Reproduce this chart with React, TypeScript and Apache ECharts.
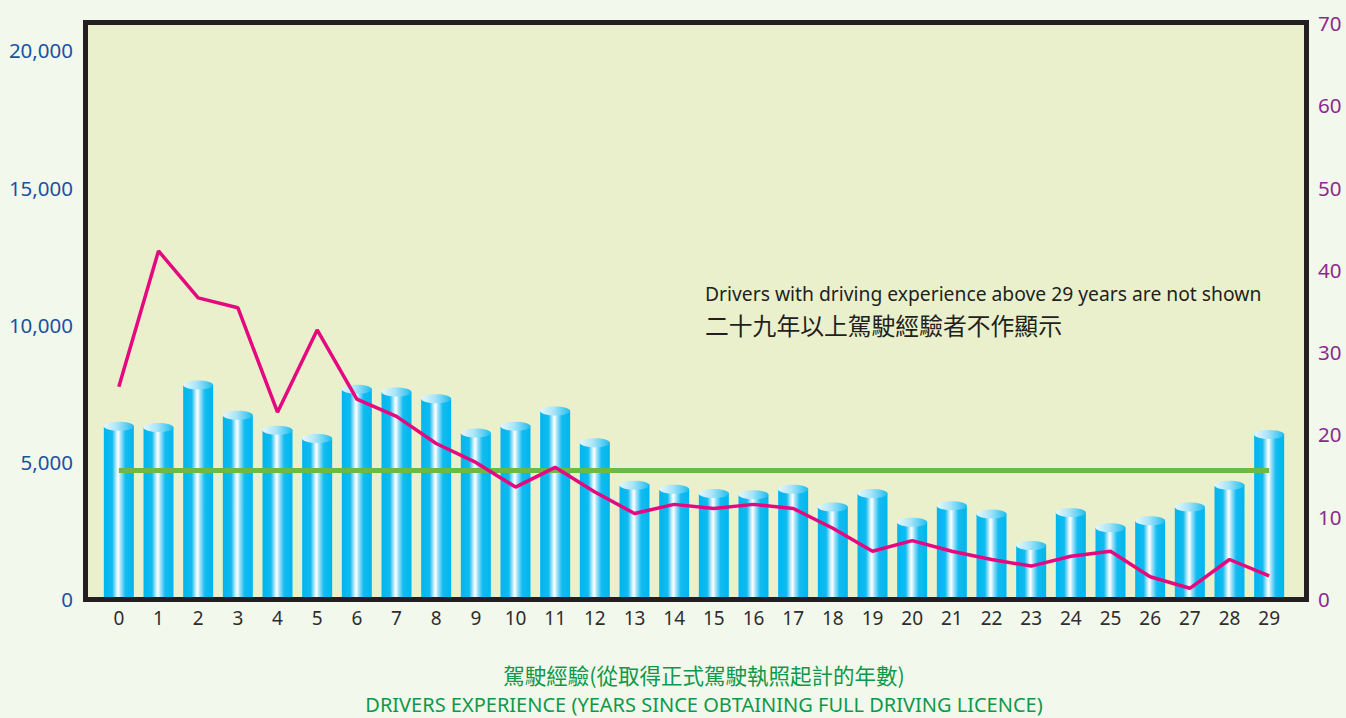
import React, { useEffect, useRef } from "react";
import * as echarts from "echarts";

const categories = ["0","1","2","3","4","5","6","7","8","9","10","11","12","13","14","15","16","17","18","19","20","21","22","23","24","25","26","27","28","29"];
const driverCounts = [6300, 6250, 7800, 6700, 6150, 5850, 7650, 7550, 7300, 6050, 6300, 6850, 5700, 4150, 4000, 3850, 3800, 4000, 3350, 3850, 2800, 3400, 3100, 1950, 3150, 2600, 2850, 3350, 4150, 6000];
const accidentRate = [25.8, 42.3, 36.6, 35.4, 22.7, 32.7, 24.3, 22.2, 18.9, 16.6, 13.6, 16.0, 13.0, 10.4, 11.5, 11.0, 11.5, 11.0, 8.6, 5.8, 7.1, 5.8, 4.8, 4.0, 5.2, 5.8, 2.7, 1.3, 4.8, 2.8];
const averageLevel = 4700;
const leftTicks = [0, 5000, 10000, 15000, 20000];
const rightTicks = [0, 10, 20, 30, 40, 50, 60, 70];
const noteEn = "Drivers with driving experience above 29 years are not shown";
const noteZh = "二十九年以上駕駛經驗者不作顯示";
const titleZh = "駕駛經驗(從取得正式駕駛執照起計的年數)";
const titleEn = "DRIVERS EXPERIENCE (YEARS SINCE OBTAINING FULL DRIVING LICENCE)";

const FONT = '"Noto Sans", "Open Sans", sans-serif';
const CJK = '"Noto Sans CJK TC", "Noto Sans CJK SC", sans-serif';

export default function App() {
  const ref = useRef<HTMLDivElement>(null);
  useEffect(() => {
    document.body.style.margin = "0";
    const chart = echarts.init(ref.current!, null, { renderer: "svg" });
    const bodyGrad = new echarts.graphic.LinearGradient(0, 0, 1, 0, [
      { offset: 0, color: "#00b6ee" },
      { offset: 0.28, color: "#10bbef" },
      { offset: 0.42, color: "#c8eefc" },
      { offset: 0.48, color: "#ffffff" },
      { offset: 0.56, color: "#a6e3f8" },
      { offset: 0.72, color: "#12bcf0" },
      { offset: 1, color: "#00b6ee" },
    ]);
    const capGrad = new echarts.graphic.LinearGradient(0, 0, 1, 0, [
      { offset: 0, color: "#e6f7fd" },
      { offset: 0.45, color: "#a9e4f8" },
      { offset: 1, color: "#1cbdf0" },
    ]);
    const option: any = {
      animation: false,
      backgroundColor: "#f3f8ec",
      grid: { left: 99, right: 57, top: 23, bottom: 119, containLabel: false },
      xAxis: {
        type: "category",
        data: categories,
        axisLine: { show: false },
        axisTick: { show: false },
        axisLabel: { color: "#2e2e2e", fontSize: 19, fontFamily: FONT, margin: 9 },
      },
      yAxis: [
        {
          type: "value",
          min: 0,
          max: 21000,
          interval: 5000,
          splitLine: { show: false },
          axisLine: { show: false },
          axisTick: { show: false },
          axisLabel: {
            showMaxLabel: false,
            color: "#1a52a2",
            fontSize: 20.5,
            fontFamily: FONT,
            margin: 26,
            formatter: (v: number) => (leftTicks.includes(v) ? v.toLocaleString("en-US") : ""),
          },
        },
        {
          type: "value",
          position: "right",
          min: 0,
          max: 70,
          interval: 10,
          splitLine: { show: false },
          axisLine: { show: false },
          axisTick: { show: false },
          axisLabel: {
            color: "#8b2a8c",
            fontSize: 20.5,
            fontFamily: FONT,
            margin: 29,
            formatter: (v: number) => (rightTicks.includes(v) ? String(v) : ""),
          },
        },
      ],
      graphic: [
        {
          type: "rect",
          z: -10,
          silent: true,
          shape: { x: 85.5, y: 22.5, width: 1221, height: 577 },
          style: { fill: "#ebf0cc", stroke: "none" },
        },
        {
          type: "rect",
          z: 100,
          silent: true,
          shape: { x: 85.5, y: 22.5, width: 1221, height: 577 },
          style: { fill: "none", stroke: "#231f20", lineWidth: 5 },
        },
        {
          type: "text",
          z: 50,
          style: { text: noteEn, x: 705, y: 293, font: `19.3px ${FONT}`, fill: "#231f20", verticalAlign: "middle" },
        },
        {
          type: "text",
          z: 50,
          style: { text: noteZh, x: 705, y: 324, font: `23.8px ${CJK}`, fill: "#231f20", verticalAlign: "middle" },
        },
        {
          type: "text",
          z: 50,
          style: { text: titleZh, x: 704, y: 674, font: `21.5px ${CJK}`, lineHeight: 22, fill: "#0e984a", align: "center", verticalAlign: "middle" },
        },
        {
          type: "text",
          z: 50,
          style: { text: titleEn, x: 704, y: 704, font: `20px ${FONT}`, lineHeight: 20, fill: "#0e984a", align: "center", verticalAlign: "middle" },
        },
      ],
      series: [
        {
          type: "custom",
          yAxisIndex: 0,
          z: 2,
          data: driverCounts.map((v, i) => [i, v]),
          encode: { x: 0, y: 1 },
          renderItem: (params: any, api: any) => {
            const idx = api.value(0);
            const val = api.value(1);
            const top = api.coord([idx, val]);
            const base = api.coord([idx, 0]);
            const w = 30;
            return {
              type: "group",
              children: [
                {
                  type: "rect",
                  shape: { x: top[0] - w / 2, y: top[1], width: w, height: base[1] - top[1] },
                  style: { fill: bodyGrad },
                },
                {
                  type: "ellipse",
                  shape: { cx: top[0], cy: top[1], rx: w / 2, ry: 4.5 },
                  style: { fill: capGrad },
                },
              ],
            };
          },
          markLine: {
            silent: true,
            symbol: "none",
            label: { show: false },
            lineStyle: { color: "#6cba45", width: 5, type: "solid" },
            data: [[{ coord: [0, averageLevel] }, { coord: [29, averageLevel] }]],
          },
        },
        {
          type: "line",
          yAxisIndex: 1,
          z: 5,
          data: accidentRate,
          symbol: "none",
          lineStyle: { color: "#e5097f", width: 3.5 },
          itemStyle: { color: "#e5097f" },
        },
      ],
    };
    chart.setOption(option);
    return () => chart.dispose();
  }, []);
  return <div ref={ref} style={{ width: 1346, height: 718 }} />;
}
